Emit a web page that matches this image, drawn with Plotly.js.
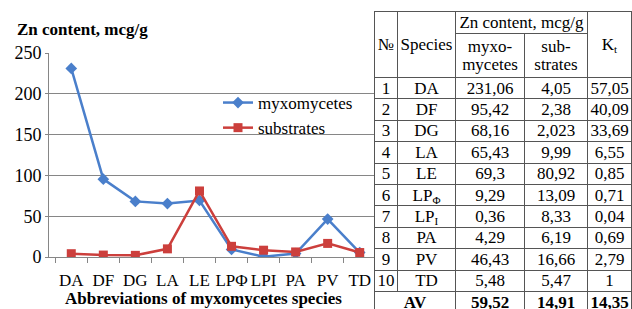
<!DOCTYPE html>
<html>
<head>
<meta charset="utf-8">
<script src="https://cdn.plot.ly/plotly-3.0.1.min.js"></script>
<style>
  html, body { margin:0; padding:0; background:#fff; }
  #wrap { position:relative; width:632px; height:309px; overflow:hidden; }
  #chart { position:absolute; left:0; top:0; width:632px; height:309px; }
  #tbl { position:absolute; left:374px; top:11px; border-collapse:collapse; table-layout:fixed;
         font-family:'Liberation Serif','Times New Roman',serif; font-size:17px; color:#000; background:#fff; }
  #tbl td { border:1px solid #555; padding:0; text-align:center; vertical-align:middle; line-height:17px; overflow:hidden; white-space:nowrap; }
  #tbl tr.h1 td { height:21px; }
  #tbl tr.h2 td { height:43px; line-height:18px; }
  #tbl tr.r td { height:20.4px; }
  #tbl sub { font-size:11px; vertical-align:-3px; line-height:0; }
  #tbl b { font-weight:bold; }
</style>
</head>
<body>
<div id="wrap">
  <div id="chart"></div>
  <table id="tbl"></table>
</div>
<script>
// ---- data ----
var species = ["DA", "DF", "DG", "LA", "LE", "LPΦ", "LPI", "PA", "PV", "TD"];
var tableSpecies = ["DA", "DF", "DG", "LA", "LE", "LP<sub>Φ</sub>", "LP<sub>I</sub>", "PA", "PV", "TD"];
var myxomycetes = [231.06, 95.42, 68.16, 65.43, 69.3, 9.29, 0.36, 4.29, 46.43, 5.48];
var substrates = [4.05, 2.38, 2.023, 9.99, 80.92, 13.09, 8.33, 6.19, 16.66, 5.47];
var kt = [57.05, 40.09, 33.69, 6.55, 0.85, 0.71, 0.04, 0.69, 2.79, 1];
var averages = [59.52, 14.91, 14.35];
var yTicks = [0, 50, 100, 150, 200, 250];

var FONT = "Liberation Serif, Times New Roman, serif";

var traces = [
  {
    x: species, y: myxomycetes, name: "myxomycetes", type: "scatter", mode: "lines+markers",
    line: {color: "#4a7fcb", width: 2.5},
    marker: {symbol: "diamond", size: 9, color: "#4a7fcb"}
  },
  {
    x: species, y: substrates, name: "substrates", type: "scatter", mode: "lines+markers",
    line: {color: "#cc3f3c", width: 2.5},
    marker: {symbol: "square", size: 9, color: "#cc3f3c"}
  }
];

var layout = {
  width: 632, height: 309,
  margin: {l: 49, r: 250, t: 53, b: 52, pad: 0, autoexpand: false},
  paper_bgcolor: "#fff", plot_bgcolor: "#fff",
  font: {family: FONT, size: 17, color: "#000"},
  title: {
    text: "<b>Zn content, mcg/g</b>",
    font: {family: FONT, size: 17, color: "#000"},
    xref: "container", yref: "container",
    x: 17/632, xanchor: "left", y: 1 - 29/309, yanchor: "middle",
    automargin: false
  },
  showlegend: true,
  legend: {
    xref: "paper", yref: "paper",
    x: (218 - 49) / 333, xanchor: "left", y: (257 - 85) / 204, yanchor: "top",
    font: {family: FONT, size: 17, color: "#000"},
    bgcolor: "rgba(0,0,0,0)", borderwidth: 0,
    itemwidth: 30, tracegroupgap: 0
  },
  xaxis: {
    type: "category", automargin: false,
    showgrid: false, zeroline: false,
    showline: true, linecolor: "#868686", linewidth: 1,
    ticks: "outside", tickson: "boundaries", ticklen: 5, tickcolor: "#868686",
    tickfont: {family: FONT, size: 17, color: "#000"},
    tickangle: 0,
    ticklabelstandoff: 8,
    fixedrange: true
  },
  yaxis: {
    range: [0, 250], tickvals: yTicks, automargin: false,
    showgrid: true, gridcolor: "#868686", gridwidth: 1,
    zeroline: false,
    showline: true, linecolor: "#868686", linewidth: 1,
    ticks: "outside", ticklen: 3, tickcolor: "#868686",
    tickfont: {family: FONT, size: 18, color: "#000"},
    fixedrange: true
  },
  annotations: [{
    text: "<b>Abbreviations of myxomycetes species</b>",
    xref: "paper", yref: "paper",
    x: (203.5 - 49) / 333, xanchor: "center",
    y: (257 - 298) / 204, yanchor: "middle",
    showarrow: false,
    font: {family: FONT, size: 17, color: "#000"}
  }]
};

Plotly.newPlot("chart", traces, layout, {displayModeBar: false, staticPlot: true});

// ---- table ----
function fmt(v) { return String(v).replace(".", ","); }
var colW = [23, 58, 69, 63, 44];
var html = "<colgroup>" + colW.map(function (w) { return '<col style="width:' + w + 'px">'; }).join("") + "</colgroup>";
html += '<tr class="h1"><td rowspan="2">№</td><td rowspan="2">Species</td>' +
        '<td colspan="2">Zn content, mcg/g</td><td rowspan="2">K<sub>t</sub></td></tr>';
html += '<tr class="h2"><td>myxo-<br>mycetes</td><td>sub-<br>strates</td></tr>';
for (var i = 0; i < species.length; i++) {
  html += '<tr class="r"><td>' + (i + 1) + '</td><td>' + tableSpecies[i] + '</td><td>' +
          fmt(myxomycetes[i]) + '</td><td>' + fmt(substrates[i]) + '</td><td>' + fmt(kt[i]) + '</td></tr>';
}
html += '<tr class="r"><td colspan="2"><b>AV</b></td><td><b>' + fmt(averages[0]) + '</b></td><td><b>' +
        fmt(averages[1]) + '</b></td><td><b>' + fmt(averages[2]) + '</b></td></tr>';
document.getElementById("tbl").innerHTML = html;
</script>
</body>
</html>
